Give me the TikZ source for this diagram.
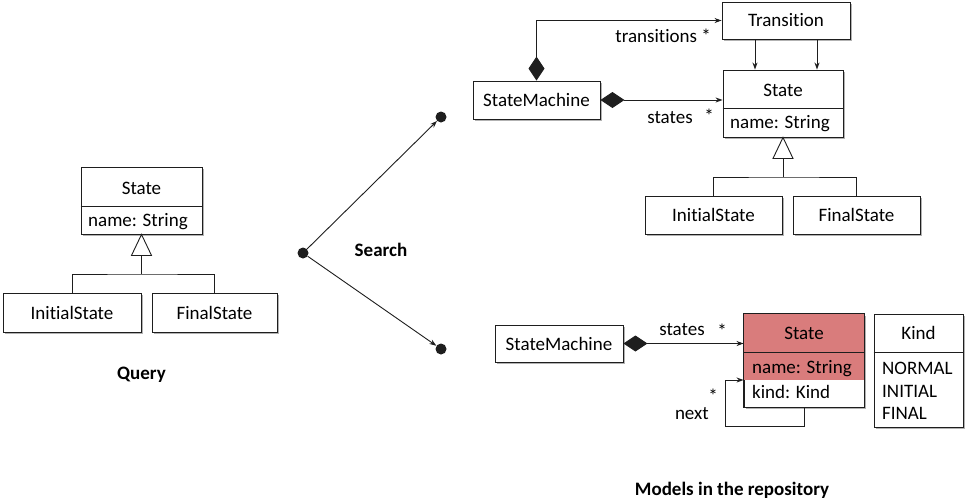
\documentclass[tikz,border=0pt]{standalone}
\usepackage{fontspec}
\setmainfont{Carlito}[Ligatures=NoCommon]
\usetikzlibrary{arrows.meta,shadows,calc}
\definecolor{hilite}{RGB}{217,124,124}
\definecolor{ink}{RGB}{30,30,30}
\begin{document}
\begin{tikzpicture}[x=1pt,y=-1pt,
  font=\fontsize{19}{22}\selectfont,
  line/.style={draw=ink, line width=0.9pt},
  box/.style={rectangle, draw=ink, line width=0.9pt, fill=white, inner sep=0pt,
    drop shadow={shadow xshift=2pt, shadow yshift=-2pt, fill=black, opacity=0.3}},
  assoc/.style={line, -{Stealth[length=7pt,width=5pt]}},
  compo/.style={line, {Diamond[length=24pt,width=16pt,fill=ink]}-{Stealth[length=7pt,width=5pt]}},
  dot/.style={circle, fill=ink, inner sep=0pt, minimum size=11pt},
  title/.style={font=\fontsize{19}{22}\selectfont\bfseries},
  attr/.style={anchor=west, inner sep=0pt},
  gen/.style={line, fill=white}]
\useasboundingbox (0,0) rectangle (966,499);

% ---------- query model ----------
\node[box, minimum width=121, minimum height=67] (qstate) at (141.5,200.5) {};
\draw[line] (qstate.west |- 0,206) -- (qstate.east |- 0,206);
\node at (141.5,188) {State};
\node[attr] at (88,222) {name: String};
\node[box, minimum width=138, minimum height=39] (qinit) at (72,312.5) {InitialState};
\node[box, minimum width=125, minimum height=39] (qfinal) at (214.5,312.5) {FinalState};
\coordinate (qjoin) at (141.5,274);
\draw[gen] (qstate.south) -- ++(-10,21) -- ++(20,0) -- cycle;
\draw[line] ([yshift=-21pt]qstate.south) -- (qjoin);
\draw[line] (qinit.north) |- (qjoin) -| (qfinal.north);
\node[title] at (141.5,375) {Query};

% ---------- search ----------
\node[dot] (src) at (303,253) {};
\node[dot] (dtop) at (441,117) {};
\node[dot] (dbot) at (441,349) {};
\draw[assoc] (src) -- (dtop);
\draw[assoc] (src) -- (dbot);
\node[title] at (381,250) {Search};

% ---------- first repository model ----------
\node[box, minimum width=128, minimum height=37] (trans) at (786,20.5) {Transition};
\node[box, minimum width=127, minimum height=38] (sm1) at (536.5,100) {StateMachine};
\node[box, minimum width=120, minimum height=67] (st1) at (783,103.5) {};
\draw[line] (st1.west |- 0,108) -- (st1.east |- 0,108);
\node at (783,90) {State};
\node[attr] at (730,124) {name: String};
\draw[compo] (sm1.north) |- (trans.west);
\node[anchor=east, inner sep=0pt] at (711,36) {transitions *};
\draw[compo] (sm1.east) -- (sm1.east -| st1.west);
\node at (670,118) {states};
\node at (709,116) {*};
\draw[assoc] ([xshift=-31pt]trans.south) -- ([xshift=-31pt]trans.south |- st1.north);
\draw[assoc] ([xshift=31pt]trans.south) -- ([xshift=31pt]trans.south |- st1.north);
\node[box, minimum width=137, minimum height=38] (init2) at (713.5,215) {InitialState};
\node[box, minimum width=127, minimum height=38] (final2) at (856.5,215) {FinalState};
\coordinate (join2) at (783,177);
\draw[gen] (st1.south) -- ++(-10,21) -- ++(20,0) -- cycle;
\draw[line] ([yshift=-21pt]st1.south) -- (join2);
\draw[line] (init2.north) |- (join2) -| (final2.north);

% ---------- second repository model ----------
\node[box, minimum width=128, minimum height=37] (sm2) at (559,343.5) {StateMachine};
\node[box, minimum width=120, minimum height=93] (st2) at (804,360.5) {};
\fill[hilite] (st2.north west) rectangle (st2.east |- 0,380);
\draw[line] (st2.north west) rectangle (st2.south east);
\draw[line] (st2.west |- 0,352) -- (st2.east |- 0,352);
\node at (804,333) {State};
\node[attr] at (752,369) {name: String};
\node[attr] at (752,392) {kind: Kind};
\node[box, minimum width=89, minimum height=113] (kind) at (918.5,370.5) {};
\draw[line] (kind.west |- 0,352) -- (kind.east |- 0,352);
\node at (918.5,333) {Kind};
\node[attr] at (882,368) {NORMAL};
\node[attr] at (882,391) {INITIAL};
\node[attr] at (882,413) {FINAL};
\draw[compo] (sm2.east) -- (sm2.east -| st2.west);
\node at (682,330) {states};
\node at (722,331) {*};
\coordinate (loopc) at (725,426);
\draw[assoc] (st2.south) |- (loopc) |- (st2.west |- 0,380);
\node[anchor=east, inner sep=0pt] at (709,414) {next};
\node[inner sep=0pt] at (713,396) {*};
\node[title] at (732,490) {Models in the repository};
\end{tikzpicture}
\end{document}
